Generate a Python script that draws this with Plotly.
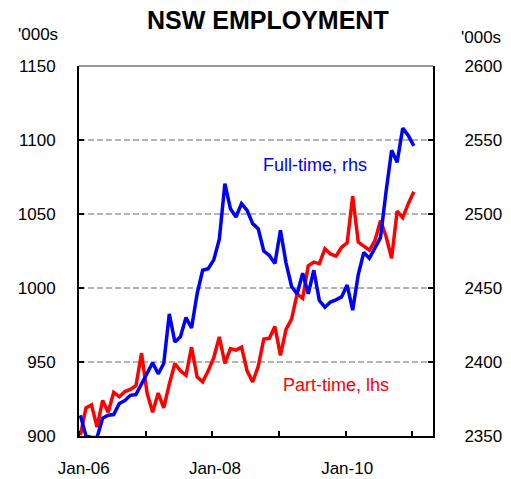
import plotly.graph_objects as go

# Monthly index: 0 = Jan-06 ... 60 = Jan-11
month_index = list(range(61))

part_time_lhs = [900.5, 919, 921, 906, 924, 916, 929.5, 926.5, 930, 931.5,
                 934, 956, 929, 916, 929, 919, 935, 949, 944, 941,
                 960, 940, 936.5, 944, 953, 967, 949, 959, 958, 960,
                 944, 936.5, 947, 965.5, 966, 974, 954.5, 972, 979, 996,
                 993, 1015, 1017.5, 1016.5, 1026.5, 1023, 1021.5, 1027.5, 1030.5, 1062,
                 1031, 1028, 1025.5, 1032, 1045.5, 1035, 1020, 1052, 1047.5, 1057,
                 1065]

full_time_rhs = [2364, 2350, 2349, 2349, 2362, 2364, 2364.5, 2372, 2374, 2377.5,
                 2378, 2385, 2392.5, 2399.5, 2392, 2399, 2432.5, 2413.5, 2417, 2430,
                 2423, 2446, 2462, 2463, 2469, 2483, 2520.5, 2503.5, 2498, 2507,
                 2502.5, 2493.5, 2490, 2475, 2472, 2466.5, 2489, 2467, 2451, 2446,
                 2460, 2446, 2462, 2441.5, 2437, 2440.5, 2442, 2444, 2452, 2435,
                 2459, 2474, 2470, 2477, 2484, 2515, 2543, 2535, 2558, 2553,
                 2546]

x_label_pos = [0.6, 24.2, 48]
x_labels = ["Jan-06", "Jan-08", "Jan-10"]
year_ticks = [-0.25, 11.75, 23.75, 35.75, 47.75, 59.75]

FONT = "Arial, Liberation Sans, sans-serif"

# The page body adds an 8px offset, so the figure is 8px smaller on each side.
OFF = 8
W, H = 511 - OFF, 479 - OFF
PW, PH = 354, 370
L, T = 79 - OFF, 66 - OFF

fig = go.Figure()
fig.add_trace(go.Scatter(x=month_index, y=part_time_lhs, mode="lines",
                         line=dict(color="#FF0000", width=3.5), yaxis="y",
                         name="Part-time, lhs"))
fig.add_trace(go.Scatter(x=month_index, y=full_time_rhs, mode="lines",
                         line=dict(color="#0000FF", width=3.5), yaxis="y2",
                         name="Full-time, rhs"))


def px(xp):
    return (xp - OFF - L) / PW


def py(yp):
    return 1 - (yp - OFF - T) / PH


fig.update_layout(
    width=W, height=H,
    margin=dict(l=L, r=W - L - PW, t=T, b=H - T - PH, autoexpand=False),
    paper_bgcolor="white", plot_bgcolor="white",
    showlegend=False,
    font=dict(family=FONT, size=17, color="black"),
    xaxis=dict(range=[-0.25, 63.45], tickvals=x_label_pos, ticktext=x_labels,
               ticks="", showgrid=False, zeroline=False, automargin=False,
               showline=True, linecolor="black", linewidth=2,
               ticklabelstandoff=16,
               minor=dict(tickmode="array", tickvals=year_ticks, ticks="inside",
                          ticklen=5, tickwidth=2, tickcolor="black", showgrid=False)),
    yaxis=dict(range=[900, 1150], tickvals=[900, 950, 1000, 1050, 1100, 1150],
               ticks="inside", ticklen=5, tickwidth=2, tickcolor="black",
               showline=True, linecolor="black", linewidth=2, automargin=False,
               showgrid=True, gridcolor="#b4b4b4", gridwidth=1.5, griddash="6px,3px",
               zeroline=False, ticklabelstandoff=18),
    yaxis2=dict(range=[2350, 2600], tickvals=[2350, 2400, 2450, 2500, 2550, 2600],
                overlaying="y", side="right", automargin=False,
                ticks="inside", ticklen=5, tickwidth=2, tickcolor="black",
                showline=True, linecolor="black", linewidth=2,
                showgrid=False, zeroline=False, ticklabelstandoff=26),
)

fig.add_shape(type="line", xref="paper", yref="paper", x0=0, x1=1, y0=1, y1=1,
              line=dict(color="#999999", width=2))

def label(text, x, y, size, color="black"):
    fig.add_annotation(text=text, xref="paper", yref="paper", x=px(x), y=py(y),
                       xanchor="center", yanchor="middle", showarrow=False,
                       font=dict(size=size, family=FONT, color=color))

label("<b>NSW EMPLOYMENT</b>", 268, 20, 25)
label("'000s", 38, 35, 17)
label("'000s", 481, 38, 17)
label("Full-time, rhs", 315, 165, 18, "#0000FF")
label("Part-time, lhs", 336, 385, 18, "#FF0000")

fig.write_html("out.html")
